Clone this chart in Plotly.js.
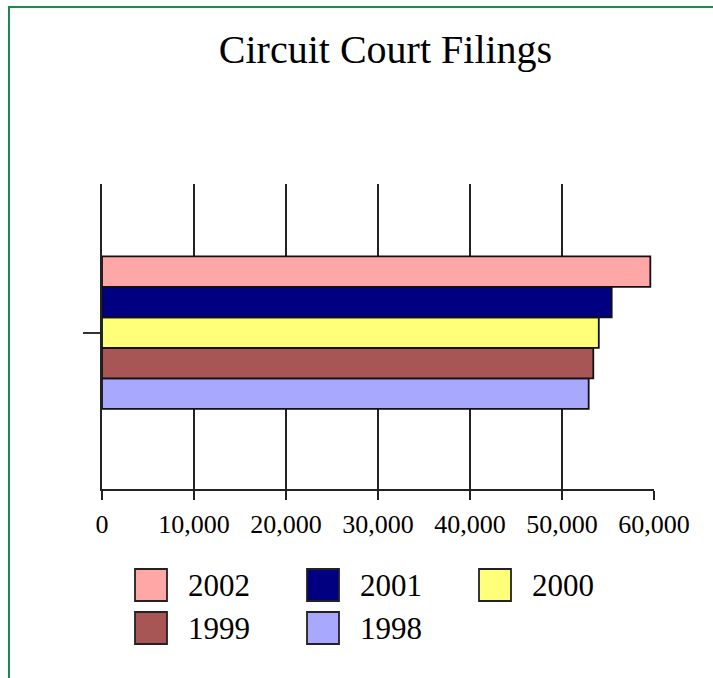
<!DOCTYPE html>
<html>
<head>
<meta charset="utf-8">
<script src="https://cdn.plot.ly/plotly-3.0.1.min.js"></script>
<style>
  html, body { margin: 0; padding: 0; background: #ffffff; }
  #chart { position: absolute; left: 0; top: 0; width: 713px; height: 678px; }
  #frame { position: absolute; left: 8px; top: 6px; width: 720px; height: 690px;
           border-left: 2px solid #1b8a50; border-top: 2px solid #1b8a50; pointer-events: none; }
</style>
</head>
<body>
<div id="chart"></div>
<div id="frame"></div>
<script>
// ---- data ----
const category = ['Filings'];
const years = ['2002', '2001', '2000', '1999', '1998'];
const filings = [59600, 55400, 54000, 53400, 52900];
const colors = ['#ffa6a6', '#000080', '#ffff7a', '#a85555', '#a8a8ff'];
const tickVals = [0, 10000, 20000, 30000, 40000, 50000, 60000];
const tickText = ['0', '10,000', '20,000', '30,000', '40,000', '50,000', '60,000'];

// ---- layout geometry (pixels) ----
const W = 713, H = 678;
const M = { l: 102, r: 59, t: 184, b: 189 };
const plotW = W - M.l - M.r, plotH = H - M.t - M.b;
const px2x = p => (p - M.l) / plotW;
const px2y = p => (H - M.b - p) / plotH;
const FONT = "'Liberation Serif', 'Times New Roman', Times, serif";

// plotly draws horizontal groups bottom-up, so reverse to put 2002 on top
const traces = [];
for (let i = years.length - 1; i >= 0; i--) {
  traces.push({
    type: 'bar',
    orientation: 'h',
    name: years[i],
    y: category,
    x: [filings[i]],
    marker: { color: colors[i], line: { color: '#111111', width: 1.8 } },
    showlegend: false,
    hoverinfo: 'name+x'
  });
}

// custom legend built from the year / colour arrays
const colLeft = [135, 307, 479];
const rowMid = [585, 628];
const sq = 32;
const shapes = [];
const annotations = [];
years.forEach((yr, i) => {
  const c = i % 3, r = Math.floor(i / 3);
  const x0 = colLeft[c], yc = rowMid[r];
  shapes.push({
    type: 'rect', xref: 'paper', yref: 'paper', layer: 'above',
    x0: px2x(x0), x1: px2x(x0 + sq),
    y0: px2y(yc + sq / 2), y1: px2y(yc - sq / 2),
    fillcolor: colors[i], line: { color: '#222222', width: 1.8 }
  });
  annotations.push({
    xref: 'paper', yref: 'paper', showarrow: false,
    x: px2x(x0 + 51), y: px2y(yc), xanchor: 'left', yanchor: 'middle',
    text: yr, font: { family: FONT, size: 31, color: '#000000' }
  });
});

const layout = {
  width: W, height: H,
  margin: M,
  paper_bgcolor: '#ffffff', plot_bgcolor: '#ffffff',
  font: { family: FONT, color: '#000000' },
  title: {
    text: 'Circuit Court Filings',
    font: { family: FONT, size: 40, color: '#000000' },
    x: 385.5 / W, xref: 'container', xanchor: 'center',
    y: 1 - 49 / H, yref: 'container', yanchor: 'middle'
  },
  barmode: 'group',
  bargap: 0.5,
  bargroupgap: 0,
  xaxis: {
    range: [0, 60000],
    tickvals: tickVals, ticktext: tickText,
    showgrid: true, gridcolor: '#222222', gridwidth: 2,
    zeroline: false,
    showline: true, linecolor: '#222222', linewidth: 2,
    ticks: 'outside', ticklen: 9, tickwidth: 2, tickcolor: '#222222',
    ticklabelstandoff: 2,
    tickfont: { family: FONT, size: 26, color: '#000000' },
    fixedrange: true
  },
  yaxis: {
    range: [-0.513, 0.487],
    showgrid: false, zeroline: false,
    showline: true, linecolor: '#222222', linewidth: 2,
    ticks: 'outside', ticklen: 17, tickwidth: 2, tickcolor: '#333333',
    showticklabels: false,
    fixedrange: true
  },
  shapes: shapes,
  annotations: annotations
};

Plotly.newPlot('chart', traces, layout, { displayModeBar: false, staticPlot: true });
</script>
</body>
</html>
